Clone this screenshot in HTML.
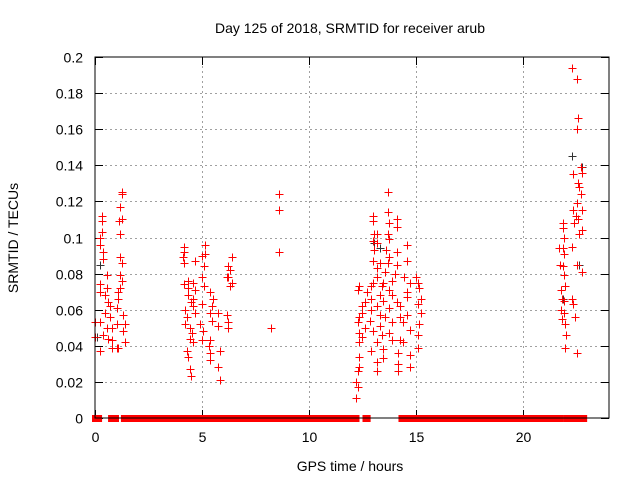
<!DOCTYPE html>
<html><head><meta charset="utf-8"><style>
body{margin:0;background:#fff;}
svg{display:block;font-family:"Liberation Sans",sans-serif;}
</style></head><body>
<svg id="chart" width="640" height="480">
<text x="350" y="33" text-anchor="middle" font-size="14">Day 125 of 2018, SRMTID for receiver arub</text>
<text x="350" y="471" text-anchor="middle" font-size="14">GPS time / hours</text>
<text transform="translate(18,238) rotate(-90)" text-anchor="middle" font-size="14">SRMTID / TECUs</text>
<g id="grid"></g><g id="ticks"></g><g id="zeros"></g><g id="pts"></g>
<rect x="95" y="57" width="514" height="361" fill="none" stroke="#000" stroke-width="1"/>
</svg>
<script>
const xTicks=[0,5,10,15,20];
const yTicks=[0,0.02,0.04,0.06,0.08,0.1,0.12,0.14,0.16,0.18,0.2];
const yTickLabels=["0","0.02","0.04","0.06","0.08","0.1","0.12","0.14","0.16","0.18","0.2"];
const zeroSegments=[[0,0.19],[0.75,0.98],[1.35,4.15],[4.34,4.34],[4.43,4.43],[4.66,5.03],[5.13,5.31],[5.55,6.25],[6.39,12.21],[12.63,12.63],[12.73,12.73],[14.31,14.31],[14.41,14.41],[14.64,15.01],[15.2,21.73],[22.0,22.33],[22.38,22.47],[22.56,22.84]];
const hoursA=[1.26,1.26,1.17,1.12,1.26,1.17,0.33,0.33,0.33,0.23,0.23,0.37,0.37,1.17,1.26,1.17,1.26,0.56,0.23,0.56,0.23,0.47,1.07,1.17,1.07,0.61,0.70,1.03,1.31,0.70,0.47,0,0.23,1.03,1.40,0.56,0.79,1.31,0.37,0,0.61,0.79,1.40,1.03,0.79,0.23,1.07];
const tecA=[0.125,0.124,0.117,0.109,0.110,0.102,0.112,0.109,0.103,0.100,0.096,0.092,0.088,0.089,0.086,0.079,0.076,0.079,0.074,0.072,0.070,0.068,0.070,0.072,0.066,0.064,0.062,0.061,0.057,0.056,0.058,0.053,0.053,0.052,0.052,0.050,0.050,0.048,0.046,0.045,0.044,0.043,0.042,0.039,0.039,0.037,0.039];
const hoursB=[4.15,4.15,4.10,4.15,4.66,4.99,5.13,5.13,5.08,4.99,5.08,4.15,4.34,4.57,4.34,4.66,4.34,4.57,4.48,4.57,4.20,4.66,4.29,4.99,5.36,5.50,5.45,5.36,5.45,5.73,5.73,4.20,4.43,4.52,4.43,4.57,4.90,5.03,4.99,5.36,5.31,5.36,5.36,4.29,4.34,4.43,4.48,5.83,5.73,5.83,6.15,6.20,6.20,6.29,6.39,6.20,6.39,6.29,6.20,6.15,8.21,8.58,8.58,8.58];
const tecB=[0.095,0.092,0.089,0.086,0.087,0.090,0.096,0.091,0.084,0.078,0.073,0.074,0.076,0.075,0.072,0.071,0.068,0.066,0.064,0.062,0.060,0.058,0.056,0.063,0.070,0.066,0.062,0.058,0.054,0.058,0.051,0.052,0.050,0.047,0.044,0.042,0.052,0.048,0.043,0.043,0.040,0.036,0.032,0.037,0.034,0.027,0.023,0.037,0.028,0.021,0.057,0.053,0.050,0.082,0.089,0.078,0.075,0.073,0.084,0.078,0.050,0.124,0.115,0.092];
const hoursC=[13.66,13.66,12.96,12.96,13.75,14.08,14.08,13.05,13.19,13.66,12.96,13.19,14.55,13.75,13.05,13.61,14.08,13.75,12.96,13.29,14.55,13.66,14.08,13.19,13.52,13.99,13.15,14.45,13.89,15.01,15.06,13.43,12.96,12.91,14.69,12.35,13.38,13.75,12.68,14.55,15.15,12.26,13.29,13.89,12.91,14.55,15.24,13.43,12.59,14.08,15.06,12.45,13.19,14.22,12.91,13.75,15.24,14.59,12.49,13.29,12.35,13.52,14.22,15.15,12.82,13.89,12.26,14.36,13.29,12.59,14.69,12.96,12.35,13.75,15.06,13.38,12.49,14.22,13.85,13.15,12.35,14.36,15.06,12.91,13.43,14.13,12.35,13.43,14.69,13.19,14.13,12.35,14.69,13.19,14.13,12.26,12.21,12.26,12.21];
const tecC=[0.125,0.114,0.112,0.109,0.108,0.110,0.106,0.102,0.102,0.102,0.098,0.097,0.096,0.099,0.093,0.093,0.092,0.089,0.087,0.086,0.087,0.086,0.085,0.083,0.081,0.080,0.078,0.078,0.076,0.078,0.075,0.075,0.075,0.073,0.075,0.073,0.073,0.071,0.070,0.070,0.072,0.071,0.068,0.068,0.066,0.067,0.066,0.065,0.064,0.064,0.063,0.062,0.062,0.062,0.060,0.061,0.058,0.057,0.058,0.057,0.056,0.056,0.056,0.052,0.054,0.053,0.053,0.053,0.051,0.050,0.049,0.048,0.047,0.047,0.046,0.046,0.045,0.043,0.043,0.042,0.042,0.042,0.039,0.037,0.038,0.036,0.034,0.033,0.035,0.031,0.030,0.028,0.028,0.026,0.026,0.026,0.020,0.017,0.011];
const hoursD=[22.28,22.52,22.56,22.52,22.70,22.75,22.33,22.56,22.61,22.70,22.52,22.75,22.33,22.47,22.56,21.86,22.38,21.86,22.75,22.61,21.91,21.68,21.86,22.28,21.91,21.72,21.86,22.52,22.75,21.91,21.96,21.77,21.82,21.91,22.28,22.33,21.77,21.91,22.42,21.82,21.96,22.0,21.96,22.52];
const tecD=[0.194,0.188,0.166,0.160,0.139,0.136,0.135,0.130,0.128,0.124,0.119,0.115,0.115,0.112,0.110,0.108,0.108,0.105,0.104,0.102,0.100,0.094,0.094,0.095,0.091,0.085,0.084,0.085,0.081,0.079,0.073,0.071,0.066,0.065,0.066,0.063,0.060,0.058,0.056,0.055,0.052,0.046,0.039,0.036];
const blackHours=[0,0.23,0.09,22.28,22.75,22.61,21.86,13.05,13.29];
const blackTec=[0.053,0.085,0.045,0.145,0.139,0.085,0.066,0.097,0.094];
const NS='http://www.w3.org/2000/svg';
const X0=95,X1=609,Y0=418,Y1=57;
function xs(h){return X0+(X1-X0)*h/24;}
function ys(v){return Y0-(Y0-Y1)*v/0.2;}
function mk(tag,attrs,parent){const e=document.createElementNS(NS,tag);for(const k in attrs)e.setAttribute(k,attrs[k]);parent.appendChild(e);return e;}
const grid=document.getElementById('grid'),ticks=document.getElementById('ticks'),zg=document.getElementById('zeros'),pg=document.getElementById('pts');
yTicks.forEach((v,i)=>{const y=Math.round(ys(v))+0.5;
 if(i>0&&i<yTicks.length-1){const g=mk('line',{x1:X0,x2:X1,y1:y,y2:y,stroke:'#a0a0a0','stroke-dasharray':'2,3'},grid);
 
 }
 mk('line',{x1:X0,x2:X0+8,y1:y,y2:y,stroke:'#000'},ticks);
 mk('line',{x1:X1-8,x2:X1,y1:y,y2:y,stroke:'#000'},ticks);
 const t=mk('text',{x:X0-12,y:y+5,'text-anchor':'end','font-size':14},ticks);t.textContent=yTickLabels[i];
 
 
});
xTicks.forEach(h=>{const x=Math.round(xs(h))+0.5;
 if(h>0){const g=mk('line',{x1:x,x2:x,y1:Y0,y2:Y1,stroke:'#a0a0a0','stroke-dasharray':'2,3'},grid);
 
 }
 mk('line',{x1:x,x2:x,y1:Y0,y2:Y0-8,stroke:'#000'},ticks);
 mk('line',{x1:x,x2:x,y1:Y1,y2:Y1+8,stroke:'#000'},ticks);
 const t=mk('text',{x:x,y:Y0+24,'text-anchor':'middle','font-size':14},ticks);t.textContent=String(h);
 
 
});
zeroSegments.forEach(s=>{const a=xs(s[0])-3,b=xs(s[1])+3;
 const r=mk('rect',{x:a,y:ys(0)-3,width:b-a,height:7,fill:'#ff0000'},zg);
 
 
});
function plus(h,v,col){const x=Math.round(xs(h))+0.5,y=Math.round(ys(v))+0.5;
 const p=mk('path',{d:`M${x-4} ${y}H${x+4}M${x} ${y-4}V${y+4}`,stroke:col,'stroke-width':1,fill:'none'},pg);
 
 
}
blackHours.forEach((h,i)=>plus(h,blackTec[i],'#333'));
[[hoursA,tecA],[hoursB,tecB],[hoursC,tecC],[hoursD,tecD]].forEach(([hs,ts])=>hs.forEach((h,i)=>plus(h,ts[i],'#ff0000')));
</script>
</body></html>
